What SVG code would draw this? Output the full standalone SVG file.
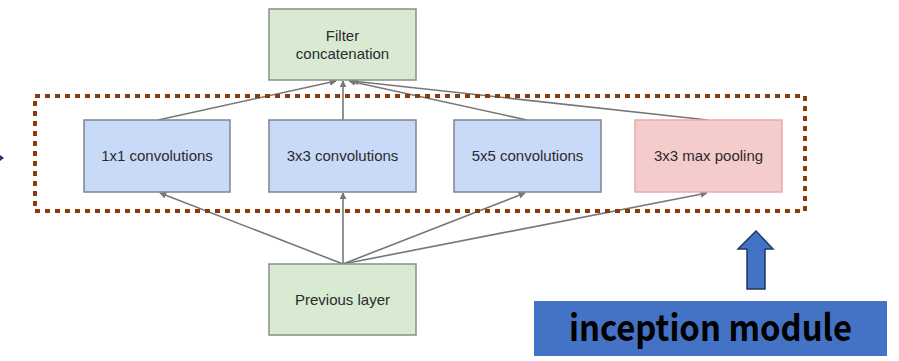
<svg xmlns="http://www.w3.org/2000/svg" width="899" height="361" viewBox="0 0 899 361">
<style>
.node rect{stroke-width:1.5}
.green{fill:#d9ead3;stroke:#8a8f88}
.blue{fill:#c9daf8;stroke:#7d8590}
.pink{fill:#f4cccc;stroke:#e8aaaa}
.lbl{font-family:"Liberation Sans",Arial,sans-serif;font-size:15px;fill:#2b2b2b;text-anchor:middle}
.conn line{stroke:#777;stroke-width:1.6;fill:none}
</style>
<defs>
<marker id="ah" viewBox="0 0 10 10" refX="9" refY="5" markerWidth="7" markerHeight="7" orient="auto" markerUnits="userSpaceOnUse">
<path d="M0,0 L10,5 L0,10 z" fill="#777"/>
</marker>
</defs>
<rect width="899" height="361" fill="#ffffff"/>
<g class="conn" id="connectors">
<line x1="343" y1="264" x2="160" y2="193" marker-end="url(#ah)"/>
<line x1="343" y1="264" x2="343" y2="193" marker-end="url(#ah)"/>
<line x1="343" y1="264" x2="525" y2="193" marker-end="url(#ah)"/>
<line x1="343" y1="264" x2="707" y2="193" marker-end="url(#ah)"/>
<line x1="158" y1="120" x2="336" y2="81" marker-end="url(#ah)"/>
<line x1="343" y1="120" x2="343" y2="81" marker-end="url(#ah)"/>
<line x1="527" y1="120" x2="349" y2="81" marker-end="url(#ah)"/>
<line x1="708" y1="120" x2="352" y2="81" marker-end="url(#ah)"/>
</g>
<g id="filter-concat" class="node">
<rect class="green" x="269" y="9" width="147" height="71"/>
<text class="lbl" x="342.5" y="41">Filter</text>
<text class="lbl" x="342.5" y="59">concatenation</text>
</g>
<g id="conv1x1" class="node">
<rect class="blue" x="84" y="120" width="146" height="72"/>
<text class="lbl" x="157" y="161">1x1 convolutions</text>
</g>
<g id="conv3x3" class="node">
<rect class="blue" x="269" y="120" width="147" height="72"/>
<text class="lbl" x="342.5" y="161">3x3 convolutions</text>
</g>
<g id="conv5x5" class="node">
<rect class="blue" x="454" y="120" width="147" height="72"/>
<text class="lbl" x="527.5" y="161">5x5 convolutions</text>
</g>
<g id="maxpool" class="node">
<rect class="pink" x="635" y="120" width="147" height="72"/>
<text class="lbl" x="708.5" y="161">3x3 max pooling</text>
</g>
<g id="previous-layer" class="node">
<rect class="green" x="269" y="264" width="147" height="71"/>
<text class="lbl" x="342.5" y="305">Previous layer</text>
</g>
<g id="inception-box">
<rect x="35" y="96" width="770" height="115" fill="none" stroke="#8b3a0e" stroke-width="4" stroke-dasharray="5 5"/>
</g>
<g id="left-mark">
<path d="M0,155 L4,158 L0,161 z" fill="#1f3864"/>
</g>
<g id="block-arrow">
<path d="M756,231 L773,249 L765,249 L765,289 L747,289 L747,249 L738,249 z" fill="#4472c4" stroke="#1f3864" stroke-width="1.5" stroke-linejoin="miter"/>
</g>
<g id="inception-label">
<rect x="534" y="301" width="353" height="55" fill="#4472c4"/>
<text x="710.5" y="341" font-family="'Noto Sans CJK KR','Noto Sans',sans-serif" font-weight="bold" font-size="36" fill="#000" text-anchor="middle" textLength="283" lengthAdjust="spacingAndGlyphs">inception module</text>
</g>
</svg>
